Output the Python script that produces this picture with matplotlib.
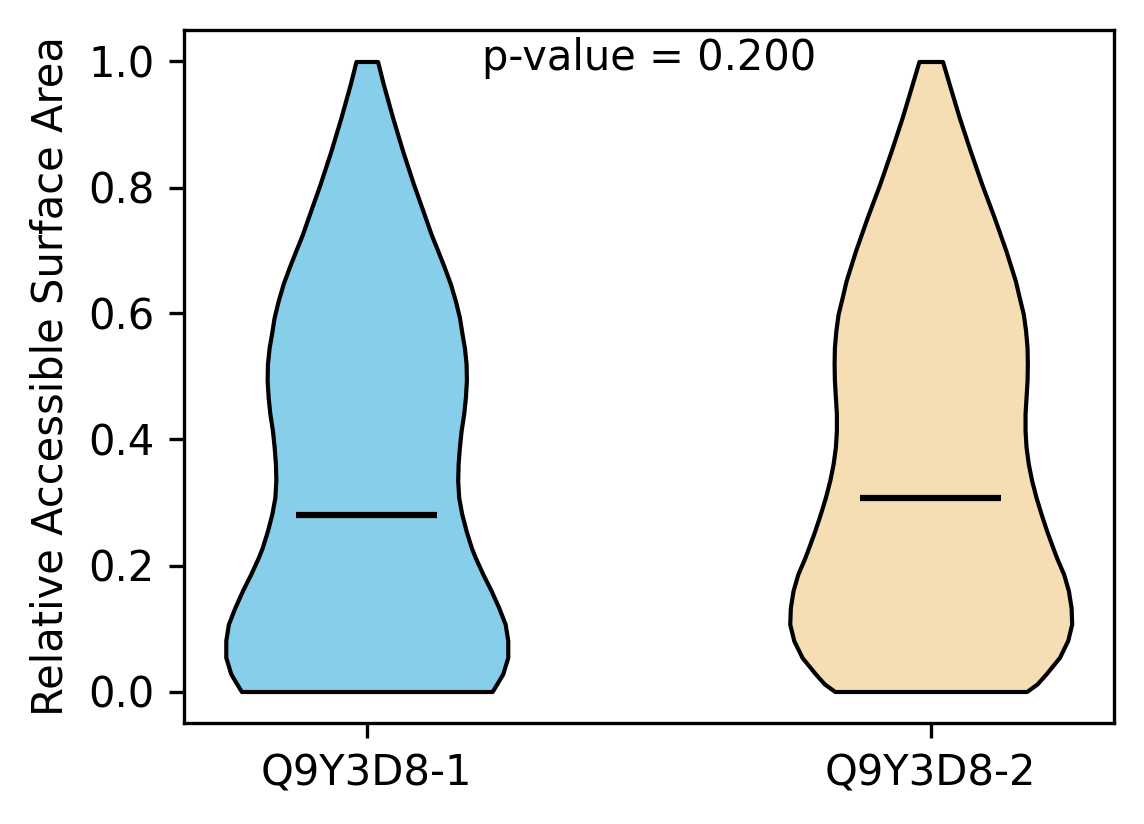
import numpy as np
import matplotlib
matplotlib.use('Agg')
import matplotlib.pyplot as plt

# Isoform names
labels = ['Q9Y3D8-1', 'Q9Y3D8-2']

# RSA levels where each violin outline was read off the reference,
# with the relative density (violin half width) at each level
coords_1 = [1.000, 0.964, 0.911, 0.858, 0.806, 0.779, 0.752, 0.726, 0.700,
            0.673, 0.647, 0.620, 0.594, 0.567, 0.546, 0.520, 0.494, 0.467,
            0.441, 0.414, 0.388, 0.361, 0.335, 0.308, 0.282, 0.255, 0.228,
            0.212, 0.186, 0.160, 0.133, 0.107, 0.081, 0.054, 0.028, 0.012,
            0.000]
density_1 = [10.8, 16.5, 25.8, 35.8, 46.5, 52.5, 58.5, 64.2, 70.8,
             77.5, 83.5, 88.5, 92.5, 95.2, 97.5, 99.2, 99.5, 98.5,
             96.8, 94.2, 92.5, 91.2, 90.8, 91.8, 94.8, 99.2, 104.5,
             108.5, 116.0, 124.2, 131.8, 138.2, 140.8, 140.8, 135.8, 129.8,
             125.2]

coords_2 = [1.000, 0.964, 0.911, 0.858, 0.806, 0.752, 0.700, 0.652, 0.625,
            0.599, 0.572, 0.546, 0.520, 0.494, 0.467, 0.441, 0.414, 0.388,
            0.361, 0.335, 0.308, 0.282, 0.255, 0.228, 0.212, 0.186, 0.160,
            0.133, 0.107, 0.081, 0.054, 0.028, 0.012, 0.000]
density_2 = [11.8, 18.5, 28.5, 39.5, 50.8, 63.5, 75.0, 84.5, 88.5,
             92.5, 94.8, 96.2, 96.5, 96.2, 95.2, 94.2, 94.2, 95.2,
             97.5, 100.8, 105.2, 110.2, 115.8, 122.0, 125.8, 132.8, 137.5,
             140.2, 140.8, 136.8, 128.5, 115.2, 106.2, 95.8]

medians = [0.280, 0.307]
mins = [0.0, 0.0]
maxs = [1.0, 1.0]
p_value = 0.200

colors = ['skyblue', 'wheat']

vpstats = []
for crd, dens, med, lo, hi in zip([coords_1, coords_2], [density_1, density_2],
                                  medians, mins, maxs):
    vpstats.append({
        'coords': np.array(crd),
        'vals': np.array(dens),
        'mean': med,  # means are not drawn
        'median': med,
        'min': lo,
        'max': hi,
    })

fig, ax = plt.subplots(figsize=(1144 / 300, 824 / 300), dpi=300)
fig.subplots_adjust(left=183.5 / 1144, right=1114 / 1144,
                    bottom=1 - 723 / 824, top=1 - 30 / 824)

parts = ax.violin(vpstats, positions=[1, 2], widths=0.5,
                  showmeans=False, showextrema=False, showmedians=True)
for body, c in zip(parts['bodies'], colors):
    body.set_facecolor(c)
    body.set_edgecolor('black')
    body.set_linewidth(1)
    body.set_joinstyle('round')
    body.set_alpha(1)
parts['cmedians'].set_color('black')
parts['cmedians'].set_linewidth(1.5)

ax.set_xticks([1, 2])
ax.set_xticklabels(labels)
ax.set_ylabel('Relative Accessible Surface Area')
ax.text(0.5, 0.99, f'p-value = {p_value:.3f}', transform=ax.transAxes,
        ha='center', va='top')

plt.savefig('out.png', dpi=300)
